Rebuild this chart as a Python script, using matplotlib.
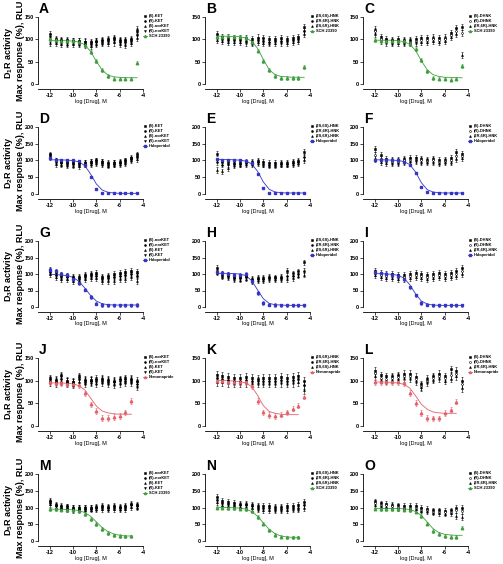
import numpy as np
import matplotlib
matplotlib.use("Agg")
import matplotlib.pyplot as plt
from matplotlib.lines import Line2D

plt.rcParams['font.family'] = ['Liberation Sans', 'DejaVu Sans']
plt.rcParams['font.weight'] = 'bold'
plt.rcParams['axes.unicode_minus'] = False
plt.rcParams['mathtext.fontset'] = 'custom'
plt.rcParams['mathtext.rm'] = 'Liberation Sans:bold'
plt.rcParams['mathtext.bf'] = 'Liberation Sans:bold'

nan = np.nan
# log [Drug], M
conc = [-12, -11.5, -11, -10.5, -10, -9.5, -9, -8.5, -8, -7.5, -7, -6.5, -6, -5.5, -5, -4.5]

receptors = ['D$_\\mathbf{1}$R', 'D$_\\mathbf{2}$R', 'D$_\\mathbf{3}$R', 'D$_\\mathbf{4}$R', 'D$_\\mathbf{5}$R']
ref_names = ['SCH 23390', 'Haloperidol', 'Haloperidol', 'Nemonapride', 'SCH 23390']
ref_colors = ['#3f9f3f', '#3535c8', '#3535c8', '#e4606a', '#3f9f3f']
row_ymax = [150, 200, 200, 150, 200]

ket_a = ['(S)-KET', '(R)-KET', '(S)-norKET', '(R)-norKET']
ket_b = ['(S)-norKET', '(R)-norKET', '(S)-KET', '(R)-KET']
hnk = ['(2S,6S)-HNK', '(2R,6R)-HNK', '(2S,6R)-HNK']
hnk_k = ['(2S,6R)-HNK', '(2R,6R)-HNK', '(2S,6S)-HNK']
dhnk = ['(S)-DHNK', '(R)-DHNK', '(2R,6R)-HNK']

# test compounds (mean values, % max response)
A_1 = [112, 100, 99, 98, 97, 96, 95, 94, 97, 99, 100, 102, 99, 98, 101, 118]
A_2 = [100, 96, 95, 93, 94, 92, 90, 90, 93, 95, 97, 98, 95, 94, 96, 110]
A_3 = [92, 92, 90, 89, 90, 89, 88, 86, 89, 91, 92, 93, 90, 88, 91, 104]
A_4 = [105, 98, 96, 95, 96, 95, 93, 92, 95, 97, 98, 100, 97, 96, 99, 122]
B_1 = [112, 106, 104, 103, 103, 102, 101, 104, 102, 100, 101, 102, 101, 103, 106, 128]
B_2 = [104, 100, 99, 98, 98, 97, 95, 99, 96, 95, 96, 97, 96, 98, 100, 118]
B_3 = [98, 96, 95, 94, 94, 93, 92, 95, 92, 91, 92, 93, 92, 94, 96, 112]
C_1 = [122, 106, 100, 99, 100, 98, 99, 101, 102, 103, 104, 103, 104, 115, 125, 128]
C_2 = [118, 100, 96, 95, 96, 95, 95, 97, 98, 99, 100, 99, 101, 110, 118, 115]
C_3 = [112, 96, 93, 92, 92, 91, 92, 93, 94, 95, 96, 95, 97, 106, 112, 65]
D_1 = [118, 100, 96, 95, 94, 92, 93, 96, 100, 97, 92, 94, 96, 100, 108, 115]
D_2 = [112, 95, 92, 90, 90, 88, 90, 93, 96, 93, 88, 90, 92, 95, 103, 110]
D_3 = [108, 90, 88, 86, 85, 84, 88, 90, 92, 90, 85, 88, 90, 92, 100, 105]
D_4 = [115, 98, 94, 92, 92, 90, 92, 95, 98, 95, 90, 92, 94, 98, 106, 118]
E_1 = [120, 95, 95, 93, 93, 95, 95, 98, 95, 92, 92, 92, 93, 95, 98, 125]
E_2 = [95, 88, 90, 90, 90, 92, 92, 95, 90, 88, 88, 90, 90, 92, 95, 110]
E_3 = [72, 68, 78, 86, 88, 90, 90, 92, 88, 85, 85, 88, 88, 90, 93, 102]
F_1 = [135, 115, 105, 102, 102, 105, 106, 106, 104, 102, 104, 100, 102, 108, 125, 118]
F_2 = [115, 103, 98, 97, 97, 100, 102, 102, 100, 98, 100, 96, 98, 100, 112, 112]
F_3 = [105, 95, 93, 93, 94, 97, 99, 100, 97, 96, 97, 93, 95, 95, 105, 108]
G_1 = [112, 105, 98, 95, 92, 90, 98, 100, 102, 92, 95, 100, 102, 105, 108, 105]
G_2 = [105, 98, 92, 90, 85, 85, 92, 95, 95, 86, 88, 90, 95, 97, 100, 95]
G_3 = [100, 90, 85, 85, 80, 80, 85, 88, 88, 80, 80, 80, 85, 85, 90, 80]
G_4 = [108, 102, 95, 92, 88, 88, 95, 98, 98, 88, 92, 95, 98, 100, 104, 100]
H_1 = [118, 100, 98, 92, 92, 95, 85, 88, 88, 92, 90, 92, 110, 102, 108, 135]
H_2 = [110, 95, 94, 88, 87, 90, 82, 85, 85, 88, 87, 88, 95, 95, 100, 110]
H_3 = [104, 92, 90, 84, 83, 86, 78, 82, 82, 84, 84, 84, 85, 88, 95, 98]
I_1 = [110, 103, 100, 100, 98, 98, 100, 102, 100, 98, 100, 102, 100, 104, 108, 118]
I_2 = [102, 96, 94, 94, 92, 92, 94, 96, 94, 92, 94, 96, 94, 98, 100, 108]
I_3 = [96, 90, 88, 88, 86, 86, 88, 90, 88, 86, 88, 90, 88, 92, 94, 100]
J_1 = [105, 102, 112, 100, 98, 110, 102, 102, 104, 104, 102, 100, 103, 105, 104, 100]
J_2 = [100, 98, 104, 97, 95, 104, 98, 99, 99, 100, 98, 96, 99, 100, 100, 92]
J_3 = [96, 95, 98, 94, 91, 98, 94, 96, 95, 97, 95, 92, 95, 96, 96, 88]
J_4 = [102, 100, 108, 98, 96, 106, 100, 100, 101, 102, 100, 98, 101, 102, 102, 96]
K_1 = [112, 110, 108, 106, 105, 108, 106, 104, 106, 105, 106, 108, 106, 108, 110, 100]
K_2 = [105, 104, 102, 100, 100, 102, 100, 99, 100, 99, 100, 102, 100, 102, 103, 90]
K_3 = [98, 98, 96, 95, 95, 96, 95, 94, 95, 94, 95, 96, 95, 96, 97, 80]
L_1 = [122, 112, 110, 110, 112, 115, 115, 108, 92, 104, 110, 115, 110, 125, 122, 100]
L_2 = [116, 106, 104, 106, 108, 110, 110, 103, 88, 100, 106, 110, 105, 112, 115, 92]
L_3 = [110, 102, 100, 102, 104, 105, 106, 99, 86, 97, 102, 106, 100, 104, 110, 84]
M_1 = [120, 108, 104, 103, 100, 100, 100, 100, 102, 104, 102, 104, 102, 104, 110, 108]
M_2 = [114, 104, 100, 99, 96, 97, 97, 97, 98, 100, 98, 100, 98, 100, 106, 104]
M_3 = [110, 100, 97, 96, 93, 94, 94, 94, 95, 96, 95, 96, 95, 96, 102, 100]
M_4 = [116, 106, 102, 101, 98, 98, 98, 98, 100, 102, 100, 102, 100, 102, 108, 106]
N_1 = [130, 118, 115, 112, 110, 110, 108, 105, 104, 103, 102, 102, 103, 104, 106, 115]
N_2 = [122, 112, 110, 108, 106, 106, 104, 100, 98, 98, 97, 97, 98, 99, 100, 108]
N_3 = [116, 107, 105, 104, 102, 102, 100, 96, 94, 94, 93, 93, 94, 95, 96, 100]
O_1 = [118, 112, 110, 108, 106, 104, 104, 104, 98, 96, 92, 92, 90, 92, 100, 100]
O_2 = [112, 108, 106, 104, 102, 100, 100, 100, 94, 92, 88, 88, 86, 88, 92, 90]
O_3 = [108, 104, 102, 100, 98, 97, 97, 96, 91, 89, 85, 84, 82, 84, 75, 72]

# reference antagonist: measured points and fitted curve
A_ref = [100, 98, 97, 97, 96, 95, 87, 72, 51, 31, 18, 12, 12, 12, 12, 48]
A_fit = [97, 97, 97, 97, 96, 94, 88, 73, 51, 31, 20, 16, 15, 14, 14, 14]
B_ref = [106, 105, 107, 106, 105, 103, 95, 75, 51, 31, 18, 14, 14, 14, 14, 38]
B_fit = [107, 107, 107, 106, 106, 103, 96, 80, 55, 32, 21, 17, 16, 15, 15, 15]
C_ref = [98, 97, 97, 96, 97, 96, 90, 78, 54, 28, 14, 12, 12, 10, 12, 40]
C_fit = [98, 98, 98, 98, 97, 95, 89, 75, 52, 32, 21, 17, 15, 15, 14, 14]
D_ref = [107, 102, 101, 100, 100, 98, 88, 51, 15, 4, 2, 2, 2, 2, 2, 2]
D_fit = [102, 102, 102, 101, 100, 96, 85, 60, 30, 12, 5, 3, 2, 2, 2, 2]
E_ref = [103, 102, 102, 101, 100, 98, 92, 60, 18, 4, 3, 3, 3, 3, 3, 3]
E_fit = [103, 103, 103, 102, 101, 98, 90, 68, 36, 14, 6, 4, 3, 3, 3, 3]
F_ref = [102, 102, 101, 100, 100, 96, 88, 62, 20, 5, 3, 3, 3, 3, 3, 3]
F_fit = [102, 102, 102, 101, 100, 97, 88, 66, 34, 13, 6, 4, 3, 3, 3, 3]
G_ref = [112, 108, 100, 97, 85, 72, 52, 30, 10, 6, 5, 5, 5, 5, 5, 6]
G_fit = [99, 98, 97, 95, 90, 78, 58, 35, 18, 10, 7, 6, 6, 6, 6, 6]
H_ref = [105, 103, 100, 98, 98, 100, 78, 42, 12, 7, 6, 5, 5, 5, 5, 5]
H_fit = [102, 102, 102, 101, 100, 95, 80, 52, 25, 11, 7, 6, 5, 5, 5, 5]
I_ref = [105, 102, 100, 98, 95, 85, 60, 35, 12, 7, 5, 5, 5, 5, 5, 5]
I_fit = [101, 101, 100, 99, 96, 88, 68, 40, 18, 9, 6, 5, 5, 5, 5, 5]
J_ref = [96, 95, 94, 92, 92, 90, 72, 48, 33, 18, 18, 20, 22, 30, 55, nan]
J_fit = [95, 95, 95, 94, 93, 89, 80, 62, 44, 33, 29, 27, 26, 26, 26, nan]
K_ref = [100, 100, 98, 97, 97, 96, 88, 55, 30, 24, 22, 25, 30, 38, 45, 65]
K_fit = [100, 100, 100, 99, 98, 95, 87, 68, 45, 32, 28, 26, 25, 25, 25, nan]
L_ref = [97, 97, 96, 97, 97, 95, 73, 51, 29, 18, 17, 17, 29, 36, 54, nan]
L_fit = [97, 97, 97, 96, 95, 92, 84, 67, 48, 37, 31, 29, 28, 28, 28, nan]
M_ref = [95, 95, 94, 93, 92, 90, 81, 66, 51, 36, 24, 17, 15, 14, 14, nan]
M_fit = [95, 95, 95, 94, 93, 91, 85, 74, 57, 40, 28, 21, 17, 15, 15, nan]
N_ref = [100, 100, 99, 98, 97, 96, 90, 72, 52, 32, 18, 13, 11, 11, 11, nan]
N_fit = [100, 100, 100, 99, 98, 95, 88, 74, 54, 35, 22, 15, 12, 11, 11, nan]
O_ref = [97, 96, 96, 96, 95, 94, 92, 88, 75, 52, 30, 21, 15, 12, 12, 40]
O_fit = [97, 97, 97, 97, 97, 96, 94, 88, 76, 57, 37, 25, 20, 18, 17, 17]

test_err = [7, 7, 7, 8, 8, 9, 9, 8, 9, 8, 9, 8, 8, 9, 8]
ref_err = [4, 4, 4, 3, 3, 3, 5, 5, 5, 6, 6, 6, 5, 5, 5]

panels = [
    ('A', [A_1, A_2, A_3, A_4], ket_a, A_ref, A_fit),
    ('B', [B_1, B_2, B_3], hnk, B_ref, B_fit),
    ('C', [C_1, C_2, C_3], dhnk, C_ref, C_fit),
    ('D', [D_1, D_2, D_3, D_4], ket_a, D_ref, D_fit),
    ('E', [E_1, E_2, E_3], hnk, E_ref, E_fit),
    ('F', [F_1, F_2, F_3], dhnk, F_ref, F_fit),
    ('G', [G_1, G_2, G_3, G_4], ket_b, G_ref, G_fit),
    ('H', [H_1, H_2, H_3], hnk, H_ref, H_fit),
    ('I', [I_1, I_2, I_3], dhnk, I_ref, I_fit),
    ('J', [J_1, J_2, J_3, J_4], ket_b, J_ref, J_fit),
    ('K', [K_1, K_2, K_3], hnk_k, K_ref, K_fit),
    ('L', [L_1, L_2, L_3], dhnk, L_ref, L_fit),
    ('M', [M_1, M_2, M_3, M_4], ket_b, M_ref, M_fit),
    ('N', [N_1, N_2, N_3], hnk, N_ref, N_fit),
    ('O', [O_1, O_2, O_3], dhnk, O_ref, O_fit),
]

# layout in pixels
W, H = 503, 564
col_left = [38, 205, 363]
ax_w = 105
row_top = [17, 127, 241, 358, 474]
row_zero = [84, 194, 307, 426, 541]
test_markers = ['s', 'o', '^', 'v']
ref_markers = ['^', 's', 's', '^', '^']

fig = plt.figure(figsize=(W / 100, H / 100), dpi=100)

for i, (letter, tests, names, ref, fit) in enumerate(panels):
    r, c = divmod(i, 3)
    ymax = row_ymax[r]
    top, zero = row_top[r], row_zero[r]
    ylow = -0.07 * ymax
    bot = zero + (zero - top) * 0.07
    ax = fig.add_axes([col_left[c] / W, 1 - bot / H, ax_w / W, (bot - top) / H])
    col = ref_colors[r]

    handles = []
    for k, vals in enumerate(tests):
        mfc = 'white' if (c == 2 and k == 1) else 'k'
        ax.errorbar(conc, vals, yerr=test_err[i], fmt=test_markers[k], color='k', mfc=mfc,
                    ms=1.4, mew=0.4, elinewidth=0.4, capsize=0.8, capthick=0.4, clip_on=False)
        handles.append(Line2D([], [], marker=test_markers[k], color='k', mfc=mfc, ls='none', ms=1.4, mew=0.4))
    ax.plot(conc, fit, color=col, lw=0.6)
    ax.errorbar(conc, ref, yerr=ref_err[i], fmt=ref_markers[r], color=col, ms=1.8,
                elinewidth=0.4, capsize=0.8, capthick=0.4, clip_on=False)
    handles.append(Line2D([], [], marker=ref_markers[r], color=col, lw=0.6, ms=1.5))

    ax.legend(handles, names + [ref_names[r]], loc='upper left', bbox_to_anchor=(1.0, 1.04),
              fontsize=2.9, frameon=False, handlelength=1.1, handletextpad=0.35,
              labelspacing=0.25, borderpad=0, borderaxespad=0)

    ax.set_xlim(-13, -4)
    ax.set_ylim(ylow, ymax)
    ax.set_xticks([-12, -10, -8, -6, -4])
    ax.set_yticks(range(0, ymax + 1, 50))
    ax.spines['top'].set_visible(False)
    ax.spines['right'].set_visible(False)
    ax.spines['left'].set_bounds(0, ymax)
    for s in ['left', 'bottom']:
        ax.spines[s].set_linewidth(0.6)
    ax.tick_params(labelsize=4, length=2, width=0.5, pad=1)
    ax.set_xlabel('log [Drug], M', fontsize=4, labelpad=0.5)

    fig.text((col_left[c] + 1) / W, 1 - (top - 8) / H, letter, fontsize=10,
             fontweight='bold', ha='left', va='center')
    if c == 0:
        yc = 1 - (top + zero) / 2 / H
        fig.text(9 / W, yc - 2 / H, receptors[r] + ' activity', rotation=90, fontsize=6.5,
                 fontweight='bold', ha='center', va='center')
        fig.text(21 / W, yc, 'Max response (%), RLU', rotation=90, fontsize=6.5,
                 fontweight='bold', ha='center', va='center')

fig.savefig('out.png', dpi=100)
